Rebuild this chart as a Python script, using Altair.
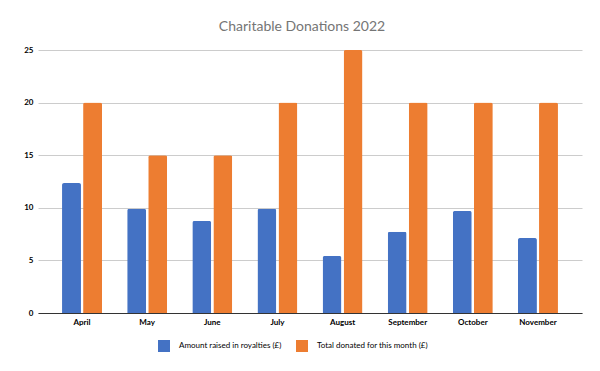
import altair as alt
import pandas as pd

months = ["April", "May", "June", "July", "August", "September", "October", "November"]
royalties = [12.35, 9.9, 8.75, 9.9, 5.42, 7.73, 9.7, 7.13]
donated = [20, 15, 15, 20, 25, 20, 20, 20]
series = ["Amount raised in royalties (£)", "Total donated for this month (£)"]
colors = ["#4472C4", "#ED7D31"]
y_ticks = [0, 5, 10, 15, 20, 25]

rows = []
for m, r, d in zip(months, royalties, donated):
    rows.append({"Month": m, "Series": series[0], "Value": r})
    rows.append({"Month": m, "Series": series[1], "Value": d})
df = pd.DataFrame(rows)

FONT = "Lato"

chart = alt.Chart(df).mark_bar(cornerRadiusTopLeft=2, cornerRadiusTopRight=2).encode(
    x=alt.X("Month:N", sort=months,
            scale=alt.Scale(paddingInner=0.386, paddingOuter=0.369),
            axis=alt.Axis(title=None, labelAngle=0, ticks=False, domainColor="#333333",
                          domainWidth=1, labelFont=FONT, labelFontSize=8, labelColor="#000000",
                          labelPadding=5, labelFontWeight="bold")),
    xOffset=alt.XOffset("Series:N", sort=series, scale=alt.Scale(paddingInner=0.1)),
    y=alt.Y("Value:Q", scale=alt.Scale(domain=[0, 25]),
            axis=alt.Axis(title=None, values=y_ticks, gridColor="#cccccc", domain=False,
                          ticks=False, labelPadding=5, labelFont=FONT, labelFontSize=8,
                          labelColor="#000000", labelFontWeight="bold")),
    color=alt.Color("Series:N", sort=series,
                    scale=alt.Scale(domain=series, range=colors),
                    legend=alt.Legend(title=None, orient="none", legendX=120, legendY=290,
                                      direction="horizontal", symbolType="square",
                                      symbolSize=144, symbolStrokeWidth=0,
                                      labelFont=FONT, labelFontSize=8, labelColor="#000000",
                                      labelOffset=9, columnPadding=14, labelLimit=300)),
).properties(
    width=544,
    height=263,
    title=alt.TitleParams("Charitable Donations 2022", fontSize=14, color="#757575",
                          fontWeight="normal", font=FONT, anchor="middle", offset=12, dx=-8),
    autosize=alt.AutoSizeParams(type="none"),
    padding={"left": 30, "top": 42, "right": 10, "bottom": 50},
).configure_view(stroke=None)

chart.save("out.html", embed_options={"renderer": "svg", "actions": False})
